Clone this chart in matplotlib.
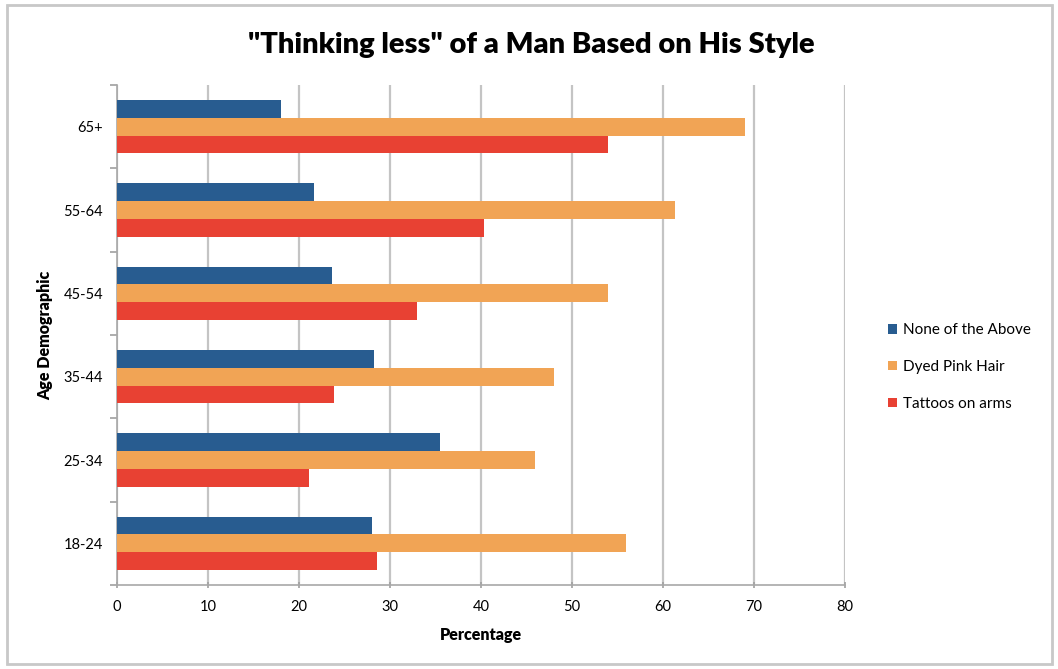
import numpy as np
import matplotlib.pyplot as plt
from matplotlib.patches import Rectangle, Patch

# data (bottom to top)
ages = ['18-24', '25-34', '35-44', '45-54', '55-64', '65+']
none_above = [28.0, 35.5, 28.2, 23.6, 21.6, 18.0]
pink_hair = [55.9, 45.9, 48.0, 54.0, 61.3, 69.0]
tattoos = [28.6, 21.1, 23.8, 33.0, 40.3, 54.0]

series_names = ['None of the Above', 'Dyed Pink Hair', 'Tattoos on arms']
colors = ['#285C90', '#F1A455', '#E84133']

plt.rcParams['font.family'] = ['Lato', 'DejaVu Sans']

fig = plt.figure(figsize=(10.58, 6.69), dpi=100)
fig.patch.set_facecolor('white')

# outer chart-area frame
fig.patches.append(Rectangle((7 / 1058, 5 / 669), 1045 / 1058, 659 / 669,
                             transform=fig.transFigure, fill=False,
                             edgecolor='#c8c8c8', linewidth=2))

ax = fig.add_axes([117 / 1058, 84 / 669, 728 / 1058, 500 / 669])

y = np.arange(len(ages))
h = 0.213
ax.barh(y + h, none_above, height=h, color=colors[0], zorder=3)
ax.barh(y, pink_hair, height=h, color=colors[1], zorder=3)
ax.barh(y - h, tattoos, height=h, color=colors[2], zorder=3)

ax.set_xlim(0, 80)
ax.set_ylim(-0.5, len(ages) - 0.5)
ax.set_xticks(range(0, 81, 10))
ax.set_yticks(y)
ax.set_yticklabels(ages)
ax.set_yticks(np.arange(-0.5, len(ages), 1), minor=True)
ax.tick_params(axis='y', which='major', length=0, labelsize=10.5, pad=10)
ax.tick_params(axis='y', which='minor', length=5, color='#a0a0a0', width=1.2)
ax.tick_params(axis='x', length=5, direction='inout', color='#a0a0a0', width=1.2,
               labelsize=10.5, pad=8)

ax.grid(axis='x', color='#c4c4c4', linewidth=1.6, zorder=0)
for side in ['top', 'right']:
    ax.spines[side].set_visible(False)
for side in ['left', 'bottom']:
    ax.spines[side].set_color('#a8a8a8')
    ax.spines[side].set_linewidth(1.2)

ax.set_xlabel('Percentage', fontsize=11.5, fontweight='heavy', labelpad=10)
ax.set_ylabel('Age Demographic', fontsize=11.5, fontweight='heavy')
ax.yaxis.set_label_coords(-0.088, 0.5)

fig.text(531 / 1058, 1 - 45 / 669, '"Thinking less" of a Man Based on His Style',
         ha='center', va='center', fontsize=21, fontweight='heavy')

handles = [Patch(facecolor=c) for c in colors]
fig.legend(handles, series_names, loc='center left',
           bbox_to_anchor=(874 / 1058, 1 - 367 / 669), frameon=False,
           fontsize=11, handlelength=0.6, handleheight=0.6, handletextpad=0.4,
           labelspacing=1.5)

fig.savefig('out.png', dpi=100)
